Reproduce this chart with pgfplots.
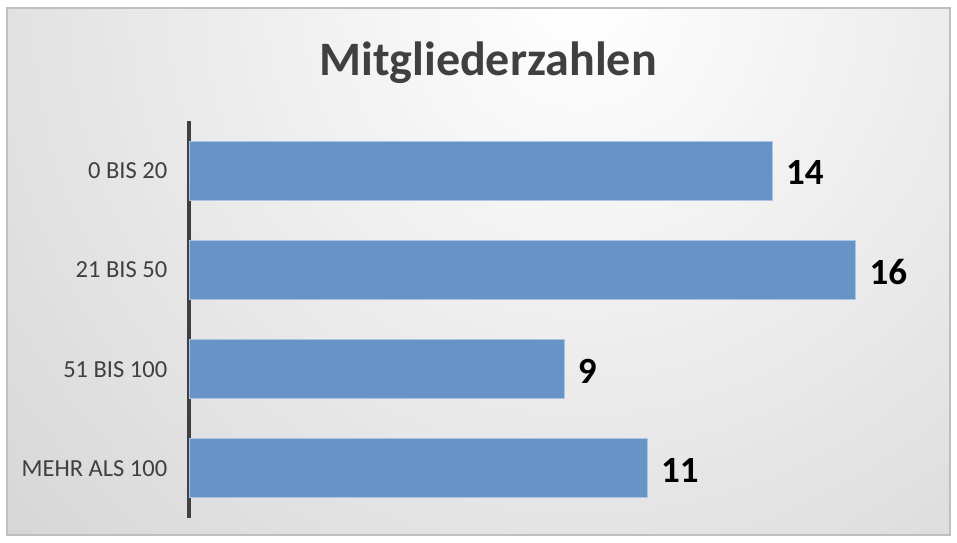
\documentclass[border=0pt]{standalone}
\usepackage{pgfplots}
\pgfplotsset{compat=1.18}
\usepackage{fontspec}
\setmainfont{Carlito}
\definecolor{barblue}{RGB}{103,147,199}
\definecolor{baredge}{RGB}{170,196,228}
\definecolor{bggray}{RGB}{198,198,198}
\definecolor{txtgray}{RGB}{64,64,64}
\begin{document}
\begin{tikzpicture}[x=1pt,y=1pt]
\useasboundingbox (0,0) rectangle (957,542);
\fill[white] (0,0) rectangle (957,542);
\begin{scope}
\clip (7,7) rectangle (950,534);
\shade[inner color=white, outer color=bggray] (580,540) circle (1100);
\end{scope}
\draw[black!25, line width=1.5] (7,7) rectangle (950,534);
\node[font=\fontsize{48}{50}\selectfont\bfseries, text=txtgray, anchor=base] at (488,466) {Mitgliederzahlen};
\begin{axis}[at={(189pt,24pt)}, anchor=south west, scale only axis,
  width=750pt, height=397pt, xbar, xmin=0, xmax=18, ymin=0.5, ymax=4.5,
  y dir=reverse, ytick={1,2,3,4},
  yticklabels={0 BIS 20, 21 BIS 50, 51 BIS 100, MEHR ALS 100},
  axis x line=none, axis y line*=left,
  y axis line style={txtgray, line width=3.5pt},
  ytick style={draw=none},
  yticklabel style={font=\fontsize{24.5}{26}\selectfont, text=txtgray, xshift=-14pt},
  bar width=59pt,
  nodes near coords,
  nodes near coords style={font=\fontsize{37}{38}\selectfont\bfseries, text=black, xshift=10pt, yshift=-2pt},
  /pgf/number format/assume math mode=true]
\addplot[fill=barblue, draw=baredge, line width=1pt] coordinates {(14,1) (16,2) (9,3) (11,4)};
\end{axis}
\end{tikzpicture}
\end{document}
